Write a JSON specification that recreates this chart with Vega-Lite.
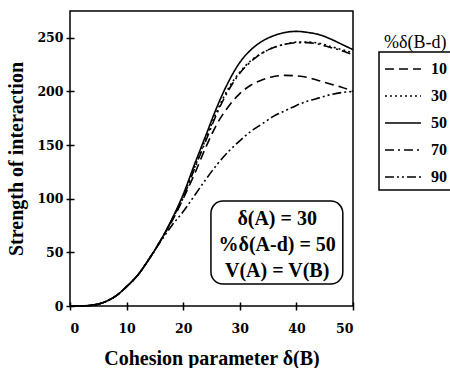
{
  "$schema": "https://vega.github.io/schema/vega-lite/v6.json",
  "width": 283,
  "height": 295,
  "autosize": "none",
  "padding": {"left": 70, "top": 11, "right": 97, "bottom": 62},
  "background": "white",
  "config": {
    "view": {"stroke": "black", "strokeWidth": 1.5},
    "axis": {
      "domain": false,
      "ticks": true,
      "tickColor": "black",
      "tickWidth": 1.5,
      "tickSize": 8,
      "offset": -4,
      "grid": false,
      "labelFont": "DejaVu Serif",
      "labelFontWeight": "bold",
      "labelFontSize": 12.5,
      "labelColor": "black",
      "titleFont": "Liberation Serif",
      "titleFontWeight": "bold",
      "titleFontSize": 20,
      "titleColor": "black"
    },
    "legend": {
      "strokeColor": "black",
      "strokeWidth": 1.5,
      "padding": 5,
      "symbolType": "stroke",
      "symbolStrokeColor": "black",
      "symbolStrokeWidth": 1.5,
      "symbolSize": 1300,
      "labelFont": "Liberation Serif",
      "labelFontWeight": "bold",
      "labelFontSize": 16,
      "labelColor": "black",
      "labelOffset": 9,
      "titleFont": "Liberation Serif",
      "titleFontSize": 18,
      "titleFontWeight": "normal",
      "titleColor": "black",
      "titlePadding": -25,
      "rowPadding": 0
    }
  },
  "datasets": {
    "curves": [
      {"x":0,"y":0,"s":"10"},{"x":2,"y":0.1,"s":"10"},{"x":4,"y":0.8,"s":"10"},{"x":6,"y":3.5,"s":"10"},{"x":8,"y":9,"s":"10"},{"x":10,"y":18,"s":"10"},{"x":12,"y":29,"s":"10"},{"x":14,"y":44,"s":"10"},{"x":16,"y":61,"s":"10"},{"x":18,"y":79,"s":"10"},{"x":20,"y":100,"s":"10"},{"x":22,"y":123,"s":"10"},{"x":24,"y":148,"s":"10"},{"x":26,"y":170,"s":"10"},{"x":28,"y":186,"s":"10"},{"x":30,"y":198,"s":"10"},{"x":32,"y":206,"s":"10"},{"x":34,"y":211,"s":"10"},{"x":36,"y":214,"s":"10"},{"x":38,"y":215,"s":"10"},{"x":40,"y":214.5,"s":"10"},{"x":42,"y":213,"s":"10"},{"x":44,"y":210,"s":"10"},{"x":46,"y":207,"s":"10"},{"x":48,"y":204,"s":"10"},{"x":50,"y":200,"s":"10"},
      {"x":0,"y":0,"s":"30"},{"x":2,"y":0.1,"s":"30"},{"x":4,"y":0.8,"s":"30"},{"x":6,"y":3.5,"s":"30"},{"x":8,"y":9,"s":"30"},{"x":10,"y":18,"s":"30"},{"x":12,"y":29,"s":"30"},{"x":14,"y":44,"s":"30"},{"x":16,"y":61,"s":"30"},{"x":18,"y":80,"s":"30"},{"x":20,"y":102,"s":"30"},{"x":22,"y":129,"s":"30"},{"x":24,"y":156,"s":"30"},{"x":26,"y":182,"s":"30"},{"x":28,"y":203,"s":"30"},{"x":30,"y":218,"s":"30"},{"x":32,"y":229,"s":"30"},{"x":34,"y":236,"s":"30"},{"x":36,"y":241,"s":"30"},{"x":38,"y":244,"s":"30"},{"x":40,"y":246,"s":"30"},{"x":42,"y":246,"s":"30"},{"x":44,"y":245,"s":"30"},{"x":46,"y":242,"s":"30"},{"x":48,"y":239,"s":"30"},{"x":50,"y":236,"s":"30"},
      {"x":0,"y":0,"s":"50"},{"x":2,"y":0.1,"s":"50"},{"x":4,"y":0.8,"s":"50"},{"x":6,"y":3.5,"s":"50"},{"x":8,"y":9,"s":"50"},{"x":10,"y":18,"s":"50"},{"x":12,"y":29,"s":"50"},{"x":14,"y":44,"s":"50"},{"x":16,"y":61,"s":"50"},{"x":18,"y":81,"s":"50"},{"x":20,"y":104,"s":"50"},{"x":22,"y":132,"s":"50"},{"x":24,"y":159,"s":"50"},{"x":26,"y":186,"s":"50"},{"x":28,"y":209,"s":"50"},{"x":30,"y":227,"s":"50"},{"x":32,"y":239,"s":"50"},{"x":34,"y":247,"s":"50"},{"x":36,"y":252,"s":"50"},{"x":38,"y":255,"s":"50"},{"x":40,"y":256,"s":"50"},{"x":42,"y":255,"s":"50"},{"x":44,"y":253,"s":"50"},{"x":46,"y":249,"s":"50"},{"x":48,"y":244,"s":"50"},{"x":50,"y":239,"s":"50"},
      {"x":0,"y":0,"s":"70"},{"x":2,"y":0.1,"s":"70"},{"x":4,"y":0.8,"s":"70"},{"x":6,"y":3.5,"s":"70"},{"x":8,"y":9,"s":"70"},{"x":10,"y":18,"s":"70"},{"x":12,"y":29,"s":"70"},{"x":14,"y":44,"s":"70"},{"x":16,"y":61,"s":"70"},{"x":18,"y":80,"s":"70"},{"x":20,"y":101,"s":"70"},{"x":22,"y":128,"s":"70"},{"x":24,"y":154,"s":"70"},{"x":26,"y":180,"s":"70"},{"x":28,"y":201,"s":"70"},{"x":30,"y":217,"s":"70"},{"x":32,"y":228,"s":"70"},{"x":34,"y":236,"s":"70"},{"x":36,"y":241,"s":"70"},{"x":38,"y":244,"s":"70"},{"x":40,"y":245.5,"s":"70"},{"x":42,"y":245.5,"s":"70"},{"x":44,"y":244,"s":"70"},{"x":46,"y":241,"s":"70"},{"x":48,"y":238,"s":"70"},{"x":50,"y":234,"s":"70"},
      {"x":0,"y":0,"s":"90"},{"x":2,"y":0.1,"s":"90"},{"x":4,"y":0.8,"s":"90"},{"x":6,"y":3.5,"s":"90"},{"x":8,"y":9,"s":"90"},{"x":10,"y":18,"s":"90"},{"x":12,"y":29,"s":"90"},{"x":14,"y":44,"s":"90"},{"x":16,"y":60,"s":"90"},{"x":18,"y":75,"s":"90"},{"x":20,"y":88,"s":"90"},{"x":22,"y":103,"s":"90"},{"x":24,"y":118,"s":"90"},{"x":26,"y":132,"s":"90"},{"x":28,"y":144,"s":"90"},{"x":30,"y":154,"s":"90"},{"x":32,"y":163,"s":"90"},{"x":34,"y":170,"s":"90"},{"x":36,"y":177,"s":"90"},{"x":38,"y":182,"s":"90"},{"x":40,"y":187,"s":"90"},{"x":42,"y":191,"s":"90"},{"x":44,"y":194,"s":"90"},{"x":46,"y":197,"s":"90"},{"x":48,"y":199,"s":"90"},{"x":50,"y":200,"s":"90"}
    ],
    "box": [{"x1": 24.9, "x2": 48.2, "y1": 20.5, "y2": 97.8}],
    "notes": [
      {"x": 36.6, "y": 81, "t": "δ(A) = 30"},
      {"x": 36.6, "y": 57, "t": "%δ(A-d) = 50"},
      {"x": 36.6, "y": 33, "t": "V(A) = V(B)"}
    ]
  },
  "layer": [
    {
      "data": {"name": "curves"},
      "mark": {"type": "line", "color": "black", "strokeWidth": 1.6, "interpolate": "monotone"},
      "encoding": {
        "x": {"field": "x", "type": "quantitative", "scale": {"domain": [0, 50], "nice": false},
              "axis": {"values": [0, 10, 20, 30, 40, 50], "title": "Cohesion parameter δ(B)", "labelPadding": 12, "titlePadding": 14}},
        "y": {"field": "y", "type": "quantitative", "scale": {"domain": [0, 275], "nice": false},
              "axis": {"values": [0, 50, 100, 150, 200, 250], "title": "Strength of interaction", "labelPadding": 3, "titlePadding": 10}},
        "strokeDash": {"field": "s", "type": "nominal",
          "scale": {"domain": ["10", "30", "50", "70", "90"],
                    "range": [[9, 5], [2, 3], [1, 0], [9, 4, 2, 4], [9, 3, 2, 3, 2, 3]]},
          "legend": {"title": "%δ(B-d)", "orient": "none", "legendX": 309, "legendY": 41,
                     "encode": {"title": {"update": {"dy": {"value": -23}}}}}}
      }
    },
    {
      "data": {"name": "box"},
      "mark": {"type": "rect", "fill": "white", "stroke": "black", "strokeWidth": 1.5, "cornerRadius": 12},
      "encoding": {
        "x": {"field": "x1", "type": "quantitative"},
        "x2": {"field": "x2"},
        "y": {"field": "y1", "type": "quantitative"},
        "y2": {"field": "y2"}
      }
    },
    {
      "data": {"name": "notes"},
      "mark": {"type": "text", "font": "Liberation Serif", "fontWeight": "bold", "fontSize": 20, "color": "black", "align": "center", "baseline": "middle"},
      "encoding": {
        "x": {"field": "x", "type": "quantitative"},
        "y": {"field": "y", "type": "quantitative"},
        "text": {"field": "t"}
      }
    }
  ]
}
